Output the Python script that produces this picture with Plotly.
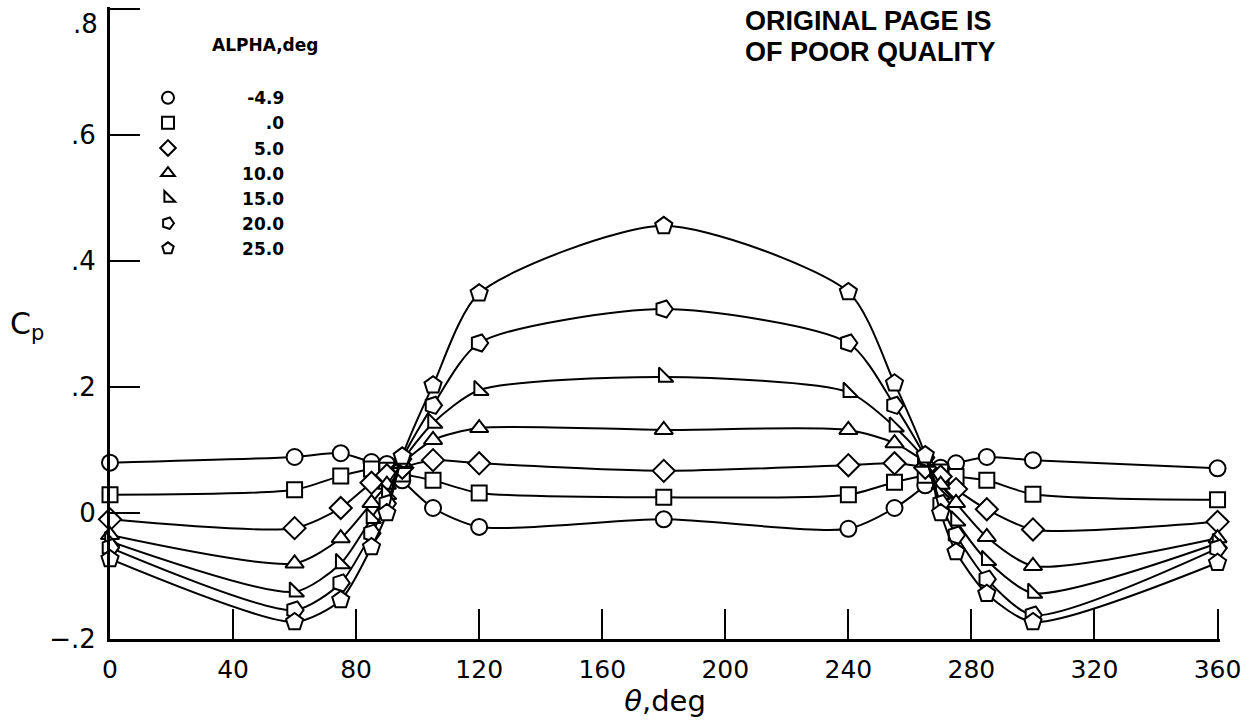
import plotly.graph_objects as go

# ---------------- data ----------------
theta = [0, 60, 75, 85, 90, 95, 105, 120, 180, 240, 255, 265, 270, 275, 285, 300, 360]

alpha_labels = ["-4.9", ".0", "5.0", "10.0", "15.0", "20.0", "25.0"]

cp_m4_9 = [0.080, 0.089, 0.095, 0.081, 0.078, 0.052, 0.008, -0.022, -0.010, -0.025, 0.008, 0.044, 0.072, 0.079, 0.089, 0.084, 0.071]
cp_0 = [0.029, 0.037, 0.059, 0.070, 0.068, 0.062, 0.052, 0.032, 0.025, 0.029, 0.049, 0.060, 0.065, 0.058, 0.052, 0.030, 0.021]
cp_5 = [-0.010, -0.024, 0.008, 0.048, 0.060, 0.072, 0.084, 0.079, 0.067, 0.076, 0.079, 0.072, 0.058, 0.038, 0.006, -0.026, -0.014]
cp_10 = [-0.035, -0.080, -0.040, 0.016, 0.045, 0.078, 0.116, 0.135, 0.132, 0.132, 0.111, 0.080, 0.045, 0.016, -0.038, -0.084, -0.040]
cp_15 = [-0.045, -0.125, -0.080, -0.008, 0.030, 0.082, 0.143, 0.195, 0.216, 0.192, 0.137, 0.084, 0.030, -0.012, -0.075, -0.127, -0.048]
cp_20 = [-0.055, -0.154, -0.111, -0.032, 0.015, 0.086, 0.171, 0.270, 0.324, 0.270, 0.171, 0.088, 0.015, -0.035, -0.105, -0.162, -0.056]
cp_25 = [-0.073, -0.173, -0.138, -0.054, 0.000, 0.090, 0.203, 0.349, 0.456, 0.351, 0.206, 0.092, 0.000, -0.062, -0.128, -0.173, -0.079]

series = [cp_m4_9, cp_0, cp_5, cp_10, cp_15, cp_20, cp_25]

x_ticks = [0, 40, 80, 120, 160, 200, 240, 280, 320, 360]
y_ticks = [-0.2, 0.0, 0.2, 0.4, 0.6, 0.8]
y_tick_text = ["\u2212.2", "0", ".2", ".4", ".6", ""]
top_tick_label = ".8"

# ---------------- styling ----------------
symbols = ["circle", "square", "diamond", "triangle-up", "triangle-sw", "pentagon", "pentagon"]
angles = [0, 0, 0, 0, 0, 90, 0]
sizes = [16, 15, 17, 16, 16, 18, 18]

FS = "\u2007"   # figure space (digit width)
TS = "\u2009\u200a"
pads = [TS, FS + FS, FS, "", "", "", ""]
lead = FS * 4 + "\u2009\u2009"

fig = go.Figure()

for vals, sym, ang, sz in zip(series, symbols, angles, sizes):
    fig.add_trace(go.Scatter(
        x=theta, y=vals, mode="lines+markers",
        line=dict(color="black", width=2, shape="spline", smoothing=0.7),
        marker=dict(symbol=sym, angle=ang, size=sz, color="white",
                    line=dict(color="black", width=2)),
        cliponaxis=False, showlegend=False, hoverinfo="x+y",
    ))

# legend-only entries (markers only, like the reference key)
for lab, sym, ang, pad in zip(alpha_labels, symbols, angles, pads):
    fig.add_trace(go.Scatter(
        x=[None], y=[None], mode="markers", name=lead + pad + lab,
        marker=dict(symbol=sym, angle=ang, size=16, color="white",
                    line=dict(color="black", width=2)),
        showlegend=True,
    ))

# plot area: theta 0 -> x=110 px, 360 -> 1218 px ; Cp 0.8 -> y=9 px, -0.2 -> 639 px
x_top = 360.8
y_top = 0.8035
plot_w = 1108 * x_top / 360
plot_h = 630 * (y_top + 0.2) / 1.0
m_l, m_b = 110, 86
m_r = 1255 - m_l - plot_w
m_t = 725 - m_b - plot_h

def px_x(px):
    return (px - m_l) / plot_w

def px_y(py):
    return (725 - m_b - py) / plot_h

fig.update_layout(
    width=1255, height=725,
    margin=dict(l=m_l, r=m_r, t=m_t, b=m_b),
    paper_bgcolor="white", plot_bgcolor="white",
    font=dict(family="DejaVu Sans", color="black"),
    showlegend=True,
    legend=dict(
        x=px_x(148), y=px_y(80), xanchor="left", yanchor="top",
        bgcolor="rgba(0,0,0,0)", borderwidth=0,
        font=dict(family="DejaVu Sans", size=17, color="black", weight="bold"),
        itemsizing="constant",
    ),
    xaxis=dict(
        range=[0, x_top], tickvals=x_ticks, ticks="inside", ticklen=30, tickwidth=2,
        tickcolor="black", showline=True, linecolor="black", linewidth=3,
        showgrid=False, zeroline=False, mirror=False,
        tickfont=dict(family="DejaVu Sans", size=25, color="black"),
        ticklabelstandoff=6,
        title=dict(text="<i>θ</i>,deg", font=dict(family="DejaVu Sans", size=29, color="black"), standoff=6),
    ),
    yaxis=dict(
        range=[-0.2, y_top], tickvals=y_ticks, ticktext=y_tick_text, ticks="inside",
        ticklen=30, tickwidth=2, tickcolor="black", showline=True, linecolor="black",
        linewidth=3, showgrid=False, zeroline=False,
        tickfont=dict(family="DejaVu Sans", size=26, color="black"),
        ticklabelstandoff=6, ticklabeloverflow="allow",
    ),
    annotations=[
        dict(text=top_tick_label, xref="paper", yref="paper", x=px_x(100), y=px_y(24),
             xanchor="right", yanchor="middle", showarrow=False,
             font=dict(family="DejaVu Sans", size=26, color="black")),
        dict(text="ALPHA,deg", xref="paper", yref="paper", x=px_x(210), y=px_y(45),
             xanchor="left", yanchor="middle", showarrow=False,
             font=dict(family="DejaVu Sans", size=17, weight="bold", color="black")),
        dict(text="C<sub>p</sub>", xref="paper", yref="paper", x=px_x(8), y=px_y(325),
             xanchor="left", yanchor="middle", showarrow=False,
             font=dict(family="DejaVu Sans", size=30, color="black")),
        dict(text="ORIGINAL PAGE IS", xref="paper", yref="paper", x=px_x(743), y=px_y(21),
             xanchor="left", yanchor="middle", showarrow=False,
             font=dict(family="Liberation Sans", size=27, weight="bold", color="black")),
        dict(text="OF POOR QUALITY", xref="paper", yref="paper", x=px_x(743), y=px_y(52),
             xanchor="left", yanchor="middle", showarrow=False,
             font=dict(family="Liberation Sans", size=27, weight="bold", color="black")),
    ],
)

fig.write_html("out.html")
